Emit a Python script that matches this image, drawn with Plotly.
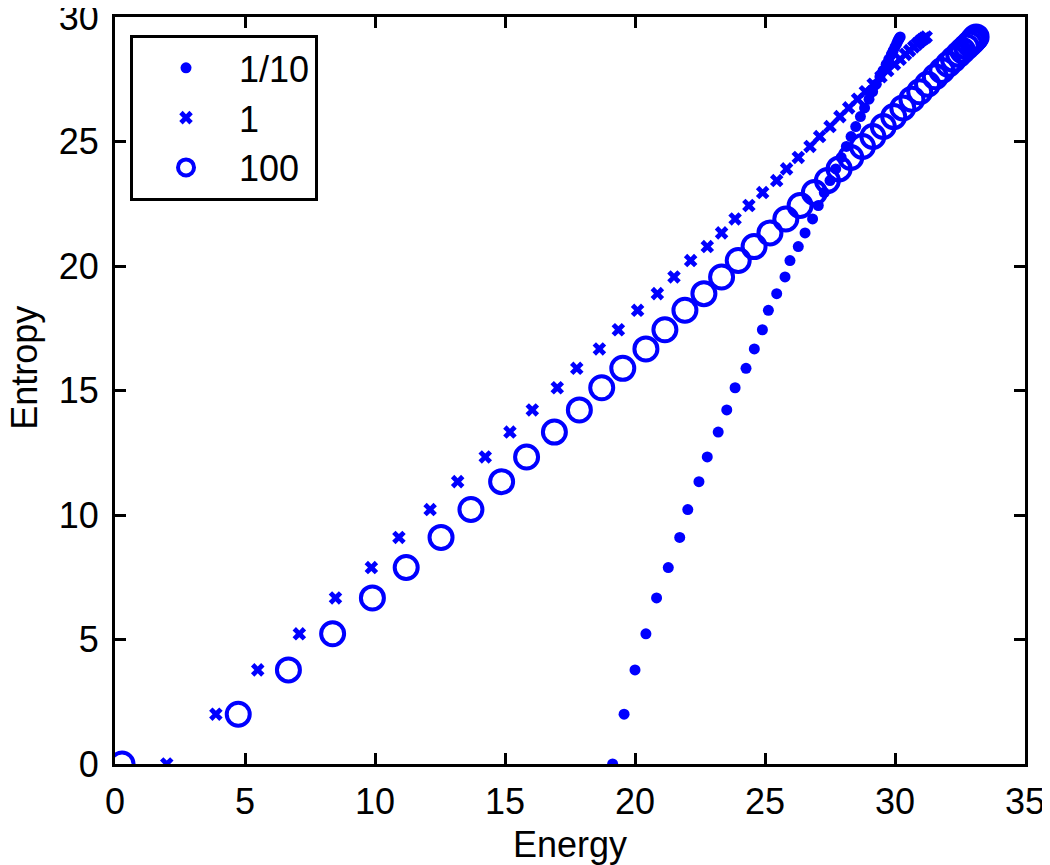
import plotly.graph_objects as go

# Common entropy levels
entropy = [0, 2.0, 3.78, 5.23, 6.67, 7.89, 9.10, 10.22, 11.34, 12.33, 13.33, 14.22,
           15.11, 15.89, 16.67, 17.44, 18.22, 18.89, 19.56, 20.22, 20.78, 21.33, 21.89,
           22.43, 22.95, 23.43, 23.9, 24.36, 24.8, 25.2, 25.6, 26.0, 26.35, 26.7, 27.0,
           27.3, 27.6, 27.85, 28.1, 28.3, 28.5, 28.65, 28.8, 28.92, 29.02, 29.1, 29.15, 29.2]

energy_tenth = [19.14, 19.58, 20.0, 20.42, 20.83, 21.28, 21.72, 22.03, 22.46, 22.78, 23.2, 23.53,
                23.85, 24.27, 24.59, 24.9, 25.13, 25.45, 25.77, 25.96, 26.28, 26.54, 26.83,
                27.05, 27.28, 27.5, 27.72, 27.93, 28.13, 28.31, 28.49, 28.67, 28.83, 29.0, 29.14,
                29.28, 29.42, 29.54, 29.66, 29.76, 29.86, 29.93, 30.0, 30.06, 30.1, 30.14, 30.17, 30.2]

energy_one = [1.99, 3.88, 5.49, 7.09, 8.48, 9.86, 10.92, 12.12, 13.18, 14.24, 15.19, 16.05,
              17.01, 17.76, 18.63, 19.36, 20.1, 20.86, 21.5, 22.14, 22.78, 23.33, 23.85,
              24.38, 24.91, 25.45, 25.83, 26.28, 26.73, 27.1, 27.5, 27.88, 28.22, 28.56, 28.86,
              29.16, 29.46, 29.72, 29.98, 30.2, 30.4, 30.56, 30.72, 30.85, 30.96, 31.05, 31.12, 31.2]

energy_hundred = [0.27, 4.74, 6.67, 8.37, 9.9, 11.2, 12.54, 13.69, 14.87, 15.83, 16.9, 17.86,
                  18.72, 19.53, 20.42, 21.15, 21.92, 22.65, 23.33, 23.97, 24.58, 25.19, 25.8,
                  26.35, 26.9, 27.4, 27.85, 28.3, 28.75, 29.15, 29.55, 29.95, 30.3, 30.65, 30.95,
                  31.25, 31.55, 31.8, 32.05, 32.25, 32.45, 32.6, 32.75, 32.87, 32.97, 33.03, 33.08, 33.12]

series_names = ["1/10", "1", "100"]

x_ticks = [0, 5, 10, 15, 20, 25, 30, 35]
y_ticks = [0, 5, 10, 15, 20, 25, 30]

BLUE = "#0000FF"
FONT = "Liberation Sans, Arial, Helvetica, sans-serif"
FS = 36
FS_TITLE = 36

fig = go.Figure()
fig.add_trace(go.Scatter(x=energy_tenth, y=entropy, mode="markers", name=series_names[0],
                         marker=dict(symbol="circle", size=11, color=BLUE, line=dict(width=0))))
fig.add_trace(go.Scatter(x=energy_one, y=entropy, mode="markers", name=series_names[1],
                         marker=dict(symbol="x", size=12, color=BLUE, line=dict(width=0))))
fig.add_trace(go.Scatter(x=energy_hundred, y=entropy, mode="markers", name=series_names[2],
                         marker=dict(symbol="circle-open", size=23, color=BLUE,
                                     line=dict(width=4, color=BLUE))))

axis_common = dict(showline=True, linecolor="black", linewidth=3, mirror="ticks",
                   ticks="inside", ticklen=11, tickwidth=3, tickcolor="black",
                   showgrid=False, zeroline=False, automargin=False,
                   ticklabeloverflow="allow",
                   tickfont=dict(family=FONT, size=FS, color="black"))

fig.update_xaxes(range=[0, 35], tickvals=x_ticks, ticklabelstandoff=4, **axis_common)
fig.update_yaxes(range=[0, 30], tickvals=y_ticks, ticklabelstandoff=6, **axis_common)

fig.add_annotation(text="Energy", xref="paper", yref="paper", x=0.5, y=-0.108,
                   xanchor="center", yanchor="middle", showarrow=False,
                   font=dict(family=FONT, size=FS_TITLE, color="black"))
fig.add_annotation(text="Entropy", xref="paper", yref="paper", x=-0.0995, y=0.531,
                   xanchor="center", yanchor="middle", textangle=-90, showarrow=False,
                   font=dict(family=FONT, size=FS_TITLE, color="black"))

# The page body adds an 8px margin, so the figure is sized 8px smaller on each axis
fig.update_layout(
    width=1042, height=857,
    margin=dict(l=107, r=25, t=9, b=101),
    paper_bgcolor="white", plot_bgcolor="white",
    showlegend=True,
    legend=dict(x=0.0165, y=0.976, xanchor="left", yanchor="top",
                bordercolor="black", borderwidth=3, bgcolor="white",
                font=dict(family=FONT, size=FS, color="black"),
                itemwidth=96, tracegroupgap=0),
)

fig.write_html("out.html")
